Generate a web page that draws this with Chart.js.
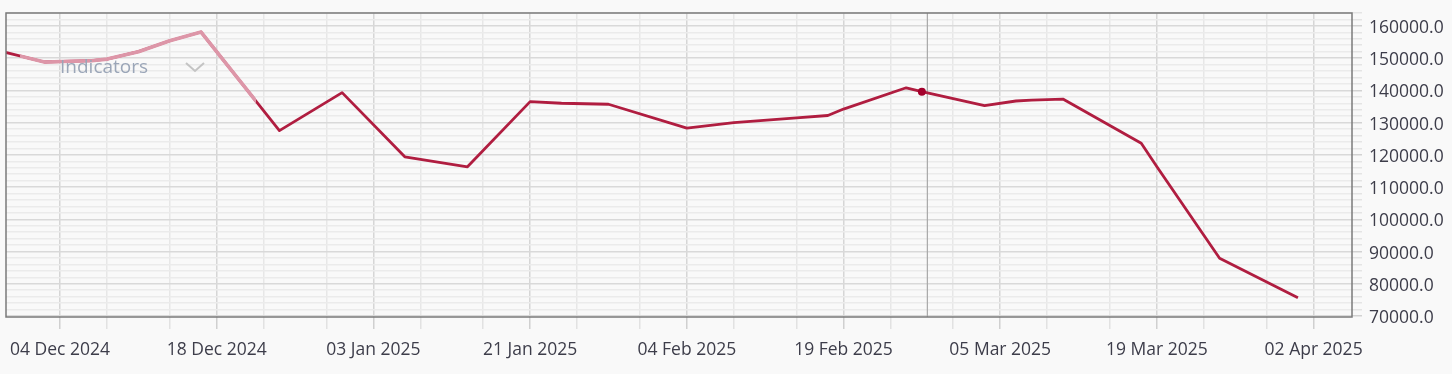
<!DOCTYPE html>
<html>
<head>
<meta charset="utf-8">
<script src="https://cdn.jsdelivr.net/npm/chart.js@4.4.1/dist/chart.umd.min.js"></script>
<style>
    html, body { margin: 0; padding: 0; background: #f9f9f9; }
    #wrap { width: 1452px; height: 374px; }
</style>
</head>
<body>
<div id="wrap"><canvas id="chart" width="1452" height="374"></canvas></div>
<script>
// trading days counted from 04 Dec 2024 (weekends / market holidays skipped)
const tickLabels = ['04 Dec 2024', '18 Dec 2024', '03 Jan 2025', '21 Jan 2025', '04 Feb 2025',
    '19 Feb 2025', '05 Mar 2025', '19 Mar 2025', '02 Apr 2025'];
const tradingDay = [-4, -1, 2, 3, 5, 7, 9, 14, 18, 22, 26, 30, 32, 35, 40, 43, 47, 49, 50,
    54, 55, 59, 61, 62, 64, 69, 70, 74, 79];
const price = [152400, 148800, 149200, 149700, 152000, 155400, 158100, 127500, 139300, 119400,
    116300, 136500, 136000, 135700, 128300, 130000, 131500, 132200, 134200, 140800, 139600,
    135300, 136700, 137000, 137300, 123600, 116300, 87900, 75700];
const hoverDay = 55;
const cursorDay = 55.35;
const legendLabel = 'Indicators';

const textColor = '#3d3d4a';
const lineColor = '#b01d40';
const fadedColor = '#dd96a8';

Chart.defaults.font.family = '"Open Sans", "Noto Sans", sans-serif';
Chart.defaults.font.size = 17.5;
Chart.defaults.color = textColor;

const frame = {
    id: 'frame',
    beforeDatasetsDraw(chart) {
        const {ctx, chartArea: a, scales: {x}} = chart;
        ctx.save();
        // cursor line
        const cx = x.getPixelForValue(cursorDay);
        ctx.strokeStyle = '#a8a8a8';
        ctx.lineWidth = 1.2;
        ctx.beginPath();
        ctx.moveTo(cx, a.top);
        ctx.lineTo(cx, a.bottom);
        ctx.stroke();
        ctx.restore();
    },
    afterDatasetsDraw(chart) {
        const {ctx, chartArea: a} = chart;
        const pts = chart.getDatasetMeta(0).data;
        ctx.save();
        // indicators dropdown overlay fades the line under it
        ctx.beginPath();
        ctx.rect(a.left + 14, a.top + 1, 236, 98);
        ctx.clip();
        ctx.strokeStyle = fadedColor;
        ctx.lineWidth = 3.6;
        ctx.lineJoin = 'round';
        ctx.beginPath();
        pts.forEach((p, i) => i ? ctx.lineTo(p.x, p.y) : ctx.moveTo(p.x, p.y));
        ctx.stroke();
        ctx.restore();

        ctx.save();
        ctx.strokeStyle = '#7a7a7a';
        ctx.lineWidth = 1.5;
        ctx.strokeRect(a.left, a.top, a.right - a.left, a.bottom - a.top);
        ctx.fillStyle = '#9ba6b8';
        ctx.font = '19px "Open Sans", "Noto Sans", sans-serif';
        ctx.textBaseline = 'middle';
        ctx.fillText(legendLabel, a.left + 54, a.top + 55);
        ctx.strokeStyle = '#c4c4c4';
        ctx.lineWidth = 2;
        ctx.beginPath();
        ctx.moveTo(a.left + 180, a.top + 50);
        ctx.lineTo(a.left + 189, a.top + 58);
        ctx.lineTo(a.left + 198, a.top + 50);
        ctx.stroke();
        ctx.restore();
    }
};

new Chart(document.getElementById('chart'), {
    type: 'line',
    data: {
        datasets: [{
            data: tradingDay.map((d, i) => ({x: d, y: price[i]})),
            borderColor: lineColor,
            borderWidth: 2.8,
            borderJoinStyle: 'round',
            tension: 0,
            clip: 0,
            pointRadius: (c) => c.raw && c.raw.x === hoverDay ? 4 : 0,
            pointBackgroundColor: '#a3002c',
            pointBorderWidth: 0,
        }]
    },
    options: {
        responsive: false,
        animation: false,
        layout: {padding: {left: 6, top: 13, right: 0, bottom: 0}},
        plugins: {legend: {display: false}, tooltip: {enabled: false}},
        events: [],
        scales: {
            x: {
                type: 'linear',
                position: 'bottom',
                min: -3.45,
                max: 82.45,
                afterBuildTicks: (s) => {
                    const t = [];
                    for (let k = 0; k < tickLabels.length; k++) {
                        [0, 3, 7].forEach(o => {
                            if (10 * k + o <= s.max) t.push({value: 10 * k + o});
                        });
                    }
                    s.ticks = t;
                },
                afterFit: (s) => {
                    s.height = 57;
                    s.paddingLeft = 0;
                    s.paddingRight = 0;
                },
                grid: {
                    color: (c) => c.tick && c.tick.value % 10 === 0 ? '#d6d6d6' : '#e7e7e7',
                    tickColor: (c) => c.tick && c.tick.value % 10 === 0 ? '#d0d0d0' : '#e2e2e2',
                    tickLength: 12,
                    lineWidth: 1.5,
                },
                border: {display: false},
                ticks: {
                    autoSkip: false,
                    maxRotation: 0,
                    padding: 11,
                    callback: (v) => v % 10 === 0 ? tickLabels[v / 10] : '',
                }
            },
            y: {
                type: 'linear',
                position: 'right',
                min: 69700,
                max: 164000,
                afterBuildTicks: (s) => {
                    const t = [];
                    for (let v = 70000; v <= s.max; v += 2000) t.push({value: v});
                    s.ticks = t;
                },
                afterFit: (s) => {
                    s.width = 100;
                    s.paddingTop = 0;
                    s.paddingBottom = 0;
                },
                grid: {
                    color: (c) => c.tick && c.tick.value % 10000 === 0 ? '#d9d9d9' : '#ebebeb',
                    tickColor: (c) => c.tick && c.tick.value % 10000 === 0 ? '#d2d2d2' : '#e4e4e4',
                    tickLength: 10,
                    lineWidth: 1.5,
                },
                border: {display: false},
                ticks: {
                    autoSkip: false,
                    padding: 7,
                    labelOffset: 2,
                    callback: (v) => v % 10000 === 0 ? v.toFixed(1) : '',
                }
            }
        }
    },
    plugins: [frame]
});
</script>
</body>
</html>
